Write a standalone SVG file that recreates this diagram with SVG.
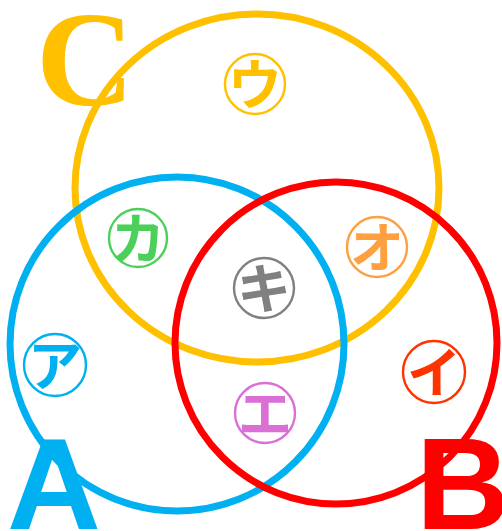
<svg xmlns="http://www.w3.org/2000/svg" width="502" height="531" viewBox="0 0 502 531">
<style>
.big{fill:none;stroke-width:7}
.mark circle{fill:none;stroke-width:2.4}
.mark text{font-family:"Noto Sans CJK JP","Noto Sans",sans-serif;font-weight:bold;font-size:54px;text-anchor:middle;dominant-baseline:central}
.lab{font-weight:bold;font-size:130px}
</style>
<rect width="502" height="531" fill="#fff"/>
<g id="setC">
<ellipse class="big" cx="257" cy="188" rx="182" ry="174" stroke="#FFC000"/>
<text x="36" y="105" font-family="Liberation Serif,serif" font-weight="bold" font-size="136" fill="#FFC000">C</text>
</g>
<g id="setA">
<circle class="big" cx="177" cy="344" r="167" stroke="#00B0F0"/>
<text class="lab" x="7" y="529" font-family="Liberation Sans,sans-serif" fill="#00B0F0">A</text>
</g>
<g id="setB">
<circle class="big" cx="336" cy="343" r="161" stroke="#FF0000"/>
<text class="lab" x="416" y="529" font-family="Liberation Sans,sans-serif" fill="#FF0000">B</text>
</g>
<g id="u" class="mark"><circle cx="255" cy="84" r="30" stroke="#FFC000"/><text x="255" y="81" fill="#FFC000">ウ</text></g>
<g id="a" class="mark"><circle cx="55" cy="365" r="31" stroke="#00B0F0"/><text x="55" y="362" fill="#00B0F0">ア</text></g>
<g id="i" class="mark"><circle cx="434" cy="372" r="31" stroke="#FF3300"/><text x="434" y="369" fill="#FF3300">イ</text></g>
<g id="ki" class="mark"><circle cx="264" cy="288" r="30" stroke="#808080"/><text x="264" y="285" fill="#808080">キ</text></g>
<g id="ka" class="mark"><circle cx="138" cy="238" r="29" stroke="#4CD05A"/><text x="138" y="235" fill="#4CD05A">カ</text></g>
<g id="o" class="mark"><circle cx="377" cy="247" r="30" stroke="#FFA040"/><text x="377" y="244" fill="#FFA040">オ</text></g>
<g id="e" class="mark"><circle cx="265" cy="413" r="30" stroke="#DA70D6"/><text x="265" y="410" fill="#DA70D6">エ</text></g>
</svg>
